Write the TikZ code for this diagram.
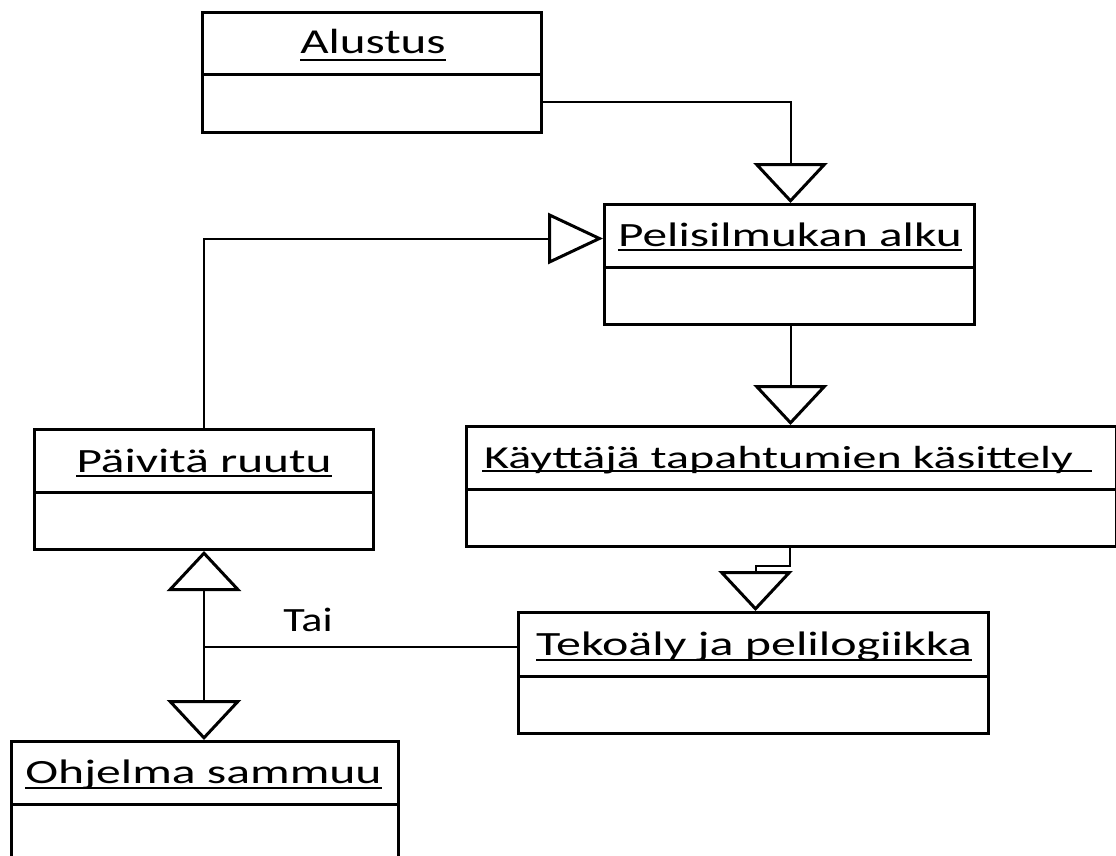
\documentclass[tikz,border=0pt]{standalone}
\usepackage{fontspec}
\setmainfont{Carlito}
\usetikzlibrary{arrows.meta}
\begin{document}
\begin{tikzpicture}[x=1pt,y=-1pt,
  cls/.style={draw,line width=3pt,inner sep=0pt,anchor=north west},
  lbl/.style={inner sep=0pt,anchor=base,font=\fontsize{34}{40}\selectfont},
  uline/.style={line width=2pt},
  conn/.style={line width=2pt},
  tri/.style={-{Triangle[open,length=40pt,width=74pt,line width=3pt]}},
  trileft/.style={-{Triangle[open,length=55pt,width=51pt,line width=3pt]}},
]
\useasboundingbox (0,0) rectangle (1116,856);
\fill[white] (0,0) rectangle (1116,856);

% class boxes
\node[cls,minimum width=339pt,minimum height=120pt] (A) at (201,11) {};
\node[cls,minimum width=370pt,minimum height=120pt] (P) at (603,203) {};
\node[cls,minimum width=650pt,minimum height=120pt] (K) at (465,425) {};
\node[cls,minimum width=339pt,minimum height=120pt] (U) at (33,428) {};
\node[cls,minimum width=470pt,minimum height=121pt] (T) at (517,611) {};
\node[cls,minimum width=387pt,minimum height=140pt] (O) at (10,740) {};

% dividers
\foreach \n in {A,P,K,U,O}
  \draw[line width=3pt] ([yshift=-64pt]\n.north west) -- ([yshift=-64pt]\n.north east);
\draw[line width=3pt] ([yshift=-65pt]T.north west) -- ([yshift=-65pt]T.north east);

% labels
\node[lbl,font=\fontsize{35}{40}\selectfont] (At) at (373,54) {\scalebox{1.40}[1]{Alustus}};
\node[lbl] (Pt) at (790,246) {\scalebox{1.45}[1]{Pelisilmukan alku}};
\node[lbl,anchor=base west,font=\fontsize{32}{38}\selectfont] (Kt) at (484,468) {\scalebox{1.50}[1]{Käyttäjä tapahtumien käsittely}};
\node[lbl] (Ut) at (204,472) {\scalebox{1.45}[1]{Päivitä ruutu}};
\node[lbl] (Tt) at (754,655) {\scalebox{1.47}[1]{Tekoäly ja pelilogiikka}};
\node[lbl] (Ot) at (203.5,783) {\scalebox{1.46}[1]{Ohjelma sammuu}};
\node[lbl] (Tai) at (308,631) {\scalebox{1.3}[1]{Tai}};

% underlines
\draw[uline] ([yshift=-6pt]At.base west) -- ([yshift=-6pt]At.base east);
\draw[uline] ([yshift=-4pt]Pt.base west) -- ([yshift=-4pt]Pt.base east);
\draw[uline] ([yshift=-3pt,xshift=-2pt]Kt.base west) -- ([yshift=-3pt,xshift=19pt]Kt.base east);
\draw[uline] ([yshift=-4pt]Ut.base west) -- ([yshift=-4pt]Ut.base east);
\draw[uline] ([yshift=-5pt]Tt.base west) -- ([yshift=-5pt]Tt.base east);
\draw[uline] ([yshift=-5pt]Ot.base west) -- ([yshift=-5pt]Ot.base east);

% connectors
\draw[conn,tri] ([yshift=-30pt]A.east) -| ([xshift=1pt]P.north);
\draw[conn,tri] ([xshift=1pt]P.south) -- ([xshift=1pt]P.south |- K.north);
\draw[conn,tri] ([xshift=-2pt]K.south) -- ++(0,18) -| ([xshift=2pt]T.north);
\draw[conn,trileft] (U.north) |- ([yshift=26pt]P.west);
\coordinate (Tw) at ([yshift=26pt]T.west);
\coordinate (J) at (U.south |- Tw);
\draw[conn] (Tw) -- (J);
\draw[conn,tri] (J) -- (U.south);
\draw[conn,tri] (J) -- (J |- O.north);
\end{tikzpicture}
\end{document}
